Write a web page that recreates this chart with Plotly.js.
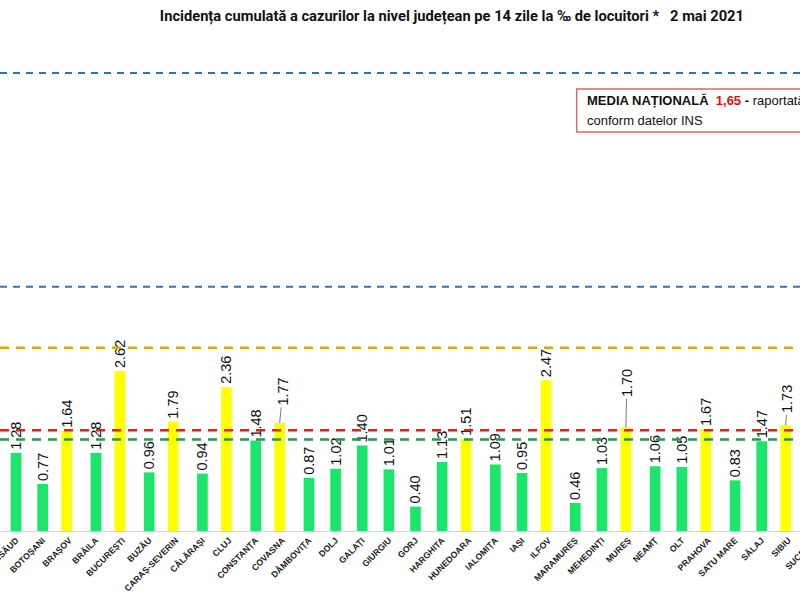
<!DOCTYPE html>
<html><head><meta charset="utf-8">
<script src="https://cdn.plot.ly/plotly-3.0.1.min.js"></script>
<style>
html,body{margin:0;padding:0;overflow:hidden;width:800px;height:600px;background:#fff}
#chart{position:absolute;left:-60px;top:0;width:940px;height:600px}
</style>
</head><body><div id="chart"></div>
<script>
// ---- data ----
const counties = ['BISTRIȚA-NĂSĂUD','BOTOȘANI','BRAȘOV','BRĂILA','BUCUREȘTI','BUZĂU','CARAȘ-SEVERIN','CĂLĂRAȘI','CLUJ','CONSTANȚA','COVASNA','DÂMBOVIȚA','DOLJ','GALAȚI','GIURGIU','GORJ','HARGHITA','HUNEDOARA','IALOMIȚA','IAȘI','ILFOV','MARAMUREȘ','MEHEDINȚI','MUREȘ','NEAMȚ','OLT','PRAHOVA','SATU MARE','SĂLAJ','SIBIU','SUCEAVA'];
const incidence = [1.28,0.77,1.64,1.28,2.62,0.96,1.79,0.94,2.36,1.48,1.77,0.87,1.02,1.40,1.01,0.40,1.13,1.51,1.09,0.95,2.47,0.46,1.03,1.70,1.06,1.05,1.67,0.83,1.47,1.73,null];
const nationalAverage = 1.65;
const greenThreshold = 1.5;
const yellowThreshold = 3;
const blueLevels = [4, 7.5];
const titleText = 'Incidența cumulată a cazurilor la nivel județean pe 14 zile la ‰ de locuitori *   2 mai 2021';
const boxLine1 = '<b>MEDIA NAȚIONALĂ  <span style="color:#e01010">1,65</span> -</b> raportată la populația cu domiciliul';
const boxLine2 = 'conform datelor INS';

// ---- styling / layout ----
const GREEN = '#1be66b', YELLOW = '#ffff00';
const leaderLabels = {'COVASNA':{ax:3, ay:-31}, 'MUREȘ':{ax:1, ay:-44}, 'SIBIU':{ax:2, ay:-26}};
const fmt = v => v == null ? '' : v.toFixed(2);

const greenY = incidence.map(v => (v != null && v < greenThreshold) ? v : null);
const yellowY = incidence.map(v => (v != null && v >= greenThreshold) ? v : null);
const labelText = (arr) => arr.map((v, i) => (v == null || leaderLabels[counties[i]]) ? '' : fmt(v));

const textfont = {family:'Liberation Sans, Arial, sans-serif', size:14.5, color:'#111'};
const traces = [
  {type:'bar', x:counties, y:greenY, marker:{color:GREEN}, width:0.4, offset:-0.2,
   text:labelText(greenY), textposition:'outside', textangle:-90, constraintext:'none',
   textfont:textfont, cliponaxis:false, hoverinfo:'x+y'},
  {type:'bar', x:counties, y:yellowY, marker:{color:YELLOW}, width:0.4, offset:-0.3,
   text:labelText(yellowY), textposition:'outside', textangle:-90, constraintext:'none',
   textfont:textfont, cliponaxis:false, hoverinfo:'x+y'}
];

const hline = (y, color, width, dash) => ({type:'line', xref:'paper', x0:0, x1:1, yref:'y', y0:y, y1:y,
  line:{color:color, width:width, dash:dash}, layer:'above'});

const shapes = [
  hline(blueLevels[1], '#2e75b6', 2, '7px,6px'),
  hline(blueLevels[0], '#2e75b6', 2, '7px,6px'),
  hline(yellowThreshold, '#d9a800', 2.5, '9px,7px'),
  hline(nationalAverage, '#f01818', 2.5, '9px,7px'),
  hline(greenThreshold, '#1f9e4f', 2.5, '9px,7px'),
  {type:'rect', xref:'paper', yref:'paper', x0:0.6865, x1:1.3, y0:0.8126, y1:0.9002,
   line:{color:'#e06464', width:1.5}, fillcolor:'rgba(255,255,255,1)', layer:'above'}
];

const annotations = [
  {xref:'paper', yref:'paper', x:0.6964, y:0.8758, xanchor:'left', yanchor:'middle', showarrow:false,
   text:boxLine1, font:{family:'Liberation Sans, Arial, sans-serif', size:13, color:'#111'}},
  {xref:'paper', yref:'paper', x:0.6964, y:0.837, xanchor:'left', yanchor:'middle', showarrow:false,
   text:boxLine2, font:{family:'Liberation Sans, Arial, sans-serif', size:13, color:'#111'}}
];
counties.forEach((c, i) => {
  const L = leaderLabels[c];
  if (!L || incidence[i] == null) return;
  annotations.push({x: i - 0.1, y: incidence[i], xref:'x', yref:'y', text: fmt(incidence[i]),
    textangle:-90, showarrow:true, arrowhead:0, arrowwidth:0.8, arrowcolor:'#555',
    ax:L.ax, ay:L.ay, standoff:0, font:textfont});
});

const layout = {
  width:940, height:600,
  margin:{l:60, r:40, t:40, b:69},
  paper_bgcolor:'#fff', plot_bgcolor:'#fff',
  barmode:'overlay', showlegend:false,
  title:{text:'<b>'+titleText+'</b>', xref:'paper', x:0.538, xanchor:'center',
         yref:'container', y:0.973, yanchor:'middle',
         font:{family:'Liberation Sans Narrow, Roboto, Arial, sans-serif', size:14.7, color:'#111'}},
  xaxis:{type:'category', range:[-0.601, 30.94], showgrid:false, zeroline:false,
         showline:true, linecolor:'#d4d4d4', linewidth:1, ticks:'',
         tickangle:-45, tickfont:{family:'Liberation Sans, Arial, sans-serif', size:8.7, color:'#1a1a1a', weight:'bold'}},
  yaxis:{range:[0, 8.04], visible:false, showgrid:false, zeroline:false},
  shapes:shapes, annotations:annotations
};

Plotly.newPlot('chart', traces, layout, {displayModeBar:false, staticPlot:true});
</script>
</body></html>
